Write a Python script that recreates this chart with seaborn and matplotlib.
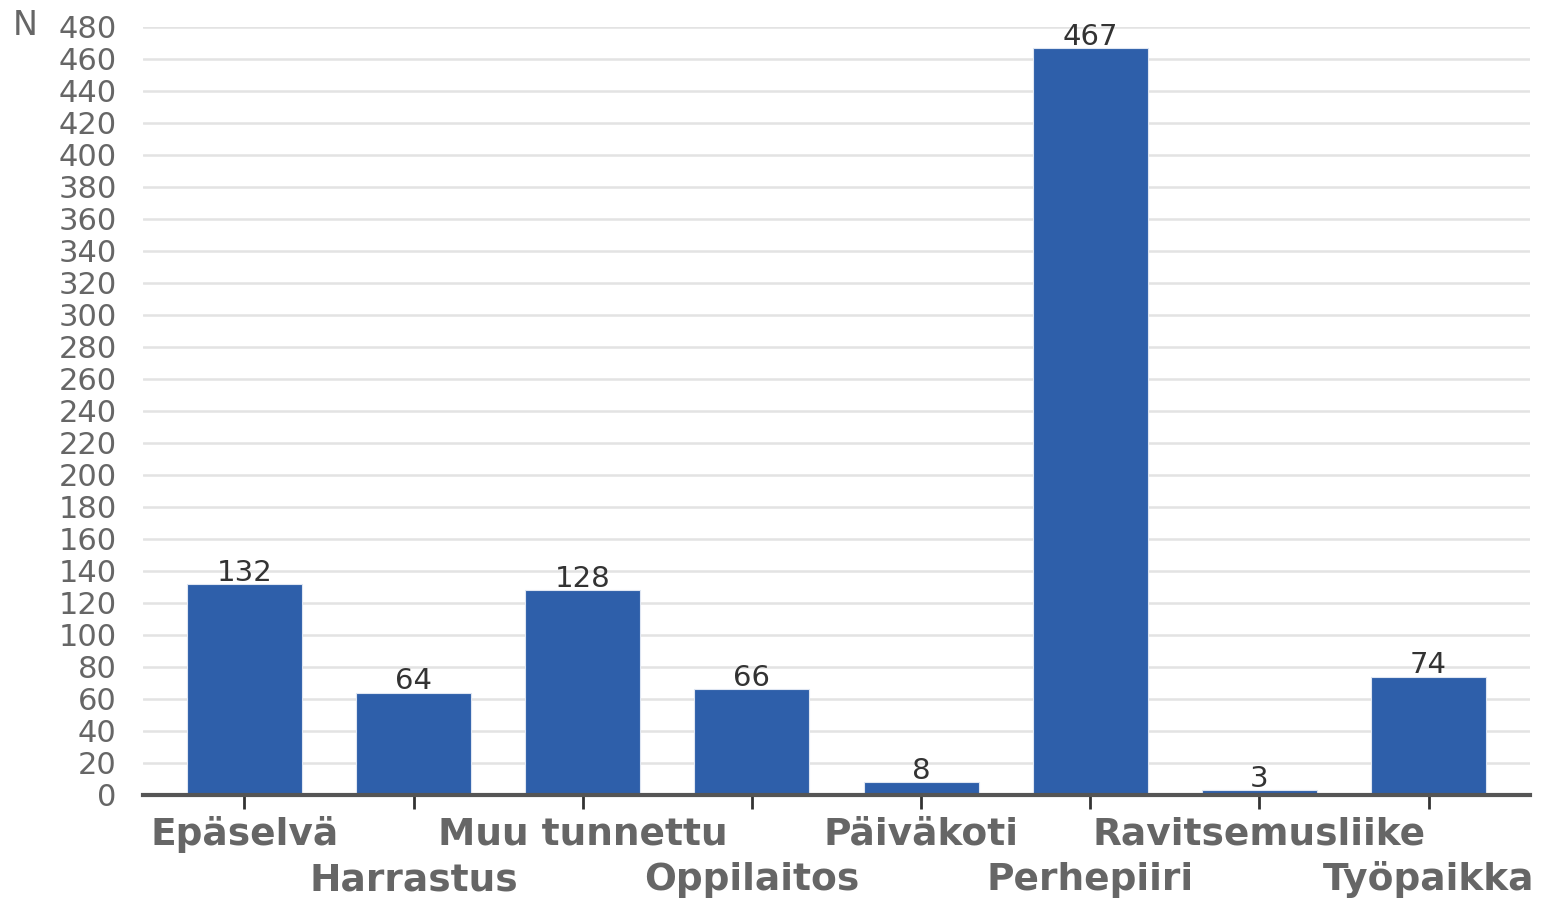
import matplotlib
matplotlib.use("Agg")
import matplotlib.pyplot as plt
import seaborn as sns
import pandas as pd
import numpy as np

categories = ["Epäselvä", "Harrastus", "Muu tunnettu", "Oppilaitos", "Päiväkoti",
              "Perhepiiri", "Ravitsemusliike", "Työpaikka"]
values = [132, 64, 128, 66, 8, 467, 3, 74]
y_ticks = list(range(0, 481, 20))

sns.set_theme(style="white")
plt.rcParams['font.family'] = ['DejaVu Sans']

df = pd.DataFrame({"cat": categories, "n": values})

fig = plt.figure(figsize=(15.42, 8.99), dpi=100)
ax = fig.add_axes([143/1542, 1 - 795/899, (1530-143)/1542, (795-27)/899])

sns.barplot(data=df, x="cat", y="n", color="#2e5faa", width=0.68, saturation=1,
            edgecolor="#dfe6f2", linewidth=0.8, ax=ax, zorder=3)

ax.set_xlim(-0.6, 7.6)
ax.set_ylim(0, 480)
ax.set_yticks(y_ticks)
ax.set_yticklabels([str(t) for t in y_ticks], fontsize=22, color="#666666")
ax.yaxis.grid(True, color="#e3e3e3", linewidth=1.8, zorder=0)
ax.set_axisbelow(True)
ax.tick_params(axis="y", length=0, pad=19)

for s in ["top", "right", "left"]:
    ax.spines[s].set_visible(False)
ax.spines["bottom"].set_color("#555555")
ax.spines["bottom"].set_linewidth(3)
ax.spines["bottom"].set_zorder(5)

ax.set_xlabel("")
ax.set_ylabel("")
ax.set_xticks(range(len(categories)))
ax.set_xticklabels([])
ax.tick_params(axis="x", length=10, width=2, color="#333333", direction="out", bottom=True)

for i, c in enumerate(categories):
    yoff = -0.0651 if i % 2 == 0 else -0.1237
    ax.text(i, yoff, c, transform=ax.get_xaxis_transform(), ha="center", va="baseline",
            fontsize=27, fontweight="bold", color="#666666")

for i, v in enumerate(values):
    ax.text(i, v + 2, str(v), ha="center", va="baseline", fontsize=21,
            color="#333333", zorder=6)

fig.text(13/1542, 1 - 35/899, "N", ha="left", va="baseline", fontsize=24, color="#666666")

fig.savefig("out.png", dpi=100)
